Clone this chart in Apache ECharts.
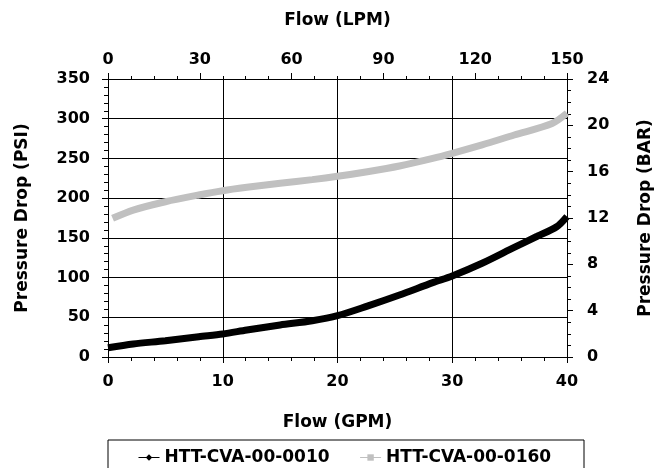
<!DOCTYPE html>
<html>
<head>
<meta charset="utf-8">
<script src="https://cdn.jsdelivr.net/npm/echarts@6/dist/echarts.min.js"></script>
<style>
  html, body { margin: 0; padding: 0; background: #fff; }
  #main { width: 662px; height: 468px; }
</style>
</head>
<body>
<div id="main"></div>
<script>
// 数据 (flow in GPM, pressure drop in PSI)
var seriesNames = ['HTT-CVA-00-0010', 'HTT-CVA-00-0160'];
var flowGpmA = [0, 2.2, 5, 7.9, 10, 12.1, 15, 17.8, 20, 22.6, 25.4, 28.3, 30, 32.6, 35.4, 37.4, 39.1, 40];
var psiA     = [11.7, 16.4, 20.5, 25.6, 29, 34, 40.3, 45.7, 52, 64, 78, 93.6, 102, 118, 138, 152, 164, 177];
var flowGpmB = [0.4, 2.2, 5, 7.9, 10, 12.1, 15, 17.8, 20, 22.6, 25.4, 28.3, 30, 32.6, 35.4, 38.7, 40];
var psiB     = [174.6, 185, 195.5, 204, 209.4, 213.6, 218.7, 223.3, 227.5, 233.3, 240.5, 250, 256.4, 267, 279.5, 294, 307];

function pairs(xs, ys) {
    var out = [];
    for (var i = 0; i < xs.length; i++) {
        out.push([xs[i], ys[i]]);
    }
    return out;
}

var font = 'DejaVu Sans';
var black = '#000';

function axisBase(tickLen, minorSplit, minorLen) {
    return {
        axisLine: { show: true, onZero: false, lineStyle: { color: black, width: 1 } },
        axisTick: { show: true, length: tickLen, lineStyle: { color: black } },
        minorTick: { show: true, splitNumber: minorSplit, length: minorLen, lineStyle: { color: black } },
        axisLabel: { color: black, fontFamily: font, fontWeight: 'bold', fontSize: 16 },
        nameTextStyle: { color: black, fontFamily: font, fontWeight: 'bold', fontSize: 17 },
        nameLocation: 'middle'
    };
}

var myChart = echarts.init(document.getElementById('main'));

var xBottom = axisBase(6, 5, 4);
xBottom.type = 'value';
xBottom.position = 'bottom';
xBottom.min = 0; xBottom.max = 40; xBottom.interval = 10;
xBottom.name = 'Flow (GPM)';
xBottom.nameGap = 57;
xBottom.axisLabel.margin = 17;
xBottom.splitLine = { show: true, lineStyle: { color: black, width: 1 } };

var xTop = axisBase(6, 4, 3);
xTop.type = 'value';
xTop.position = 'top';
xTop.min = 0; xTop.max = 150; xTop.interval = 30;
xTop.name = 'Flow (LPM)';
xTop.nameGap = 50;
xTop.axisLabel.margin = 11;
xTop.splitLine = { show: false };

var yLeft = axisBase(6, 5, 4);
yLeft.type = 'value';
yLeft.position = 'left';
yLeft.min = 0; yLeft.max = 350; yLeft.interval = 50;
yLeft.name = 'Pressure Drop (PSI)';
yLeft.nameGap = 77;
yLeft.axisLabel.margin = 18;
yLeft.splitLine = { show: true, lineStyle: { color: black, width: 1 } };

var yRight = axisBase(6, 4, 4);
yRight.type = 'value';
yRight.position = 'right';
yRight.min = 0; yRight.max = 24; yRight.interval = 4;
yRight.name = 'Pressure Drop (BAR)';
yRight.nameGap = 70;
yRight.axisLabel.margin = 20;
yRight.splitLine = { show: false };

var option = {
    animation: false,
    backgroundColor: '#fff',
    grid: { left: 108, right: 85, top: 79, bottom: 111 },
    xAxis: [xBottom, xTop],
    yAxis: [yLeft, yRight],
    legend: {
        data: seriesNames,
        left: 133,
        top: 444,
        itemWidth: 21,
        itemHeight: 8,
        itemGap: 30,
        lineStyle: { width: 1 },
        textStyle: { color: black, fontFamily: font, fontWeight: 'bold', fontSize: 17 }
    },
    graphic: [{
        type: 'rect',
        shape: { x: 108, y: 440, width: 476, height: 40 },
        style: { fill: 'none', stroke: black, lineWidth: 1 },
        silent: true
    }],
    series: [
        {
            name: seriesNames[0],
            type: 'line',
            xAxisIndex: 0,
            yAxisIndex: 0,
            data: pairs(flowGpmA, psiA),
            smooth: 0.3,
            symbol: 'diamond',
            symbolSize: 6,
            showSymbol: false,
            lineStyle: { color: '#000', width: 7 },
            itemStyle: { color: '#000' }
        },
        {
            name: seriesNames[1],
            type: 'line',
            xAxisIndex: 0,
            yAxisIndex: 0,
            data: pairs(flowGpmB, psiB),
            smooth: 0.3,
            symbol: 'rect',
            symbolSize: 6,
            showSymbol: false,
            lineStyle: { color: '#c0c0c0', width: 7 },
            itemStyle: { color: '#c0c0c0' }
        }
    ]
};

myChart.setOption(option);
</script>
</body>
</html>
